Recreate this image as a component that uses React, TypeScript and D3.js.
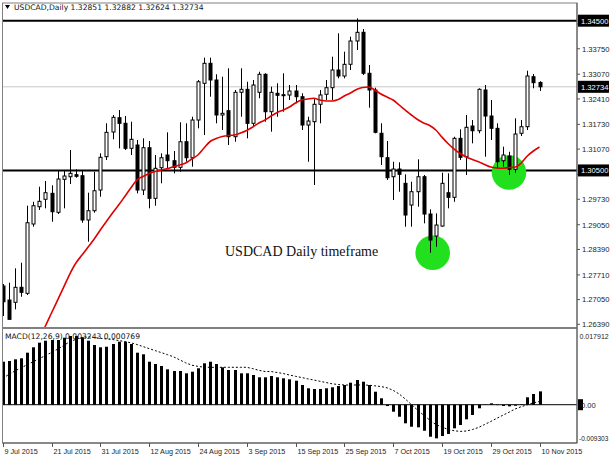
import React from "react";
import * as d3 from "d3";

const W = 610;
const H = 457;

const opens = [1.27412,1.27038,1.26977,1.27378,1.27217,1.29069,1.29531,1.29729,1.29889,1.29381,1.30263,1.30332,1.30386,1.30359,1.29176,1.29424,1.29977,1.30867,1.31526,1.31909,1.31759,1.31091,1.31179,1.29977,1.31107,1.29755,1.30573,1.30912,1.30760,1.30583,1.31267,1.30840,1.31847,1.32828,1.33362,1.32916,1.31981,1.32096,1.31401,1.32587,1.32667,1.31759,1.32587,1.33068,1.32069,1.32560,1.32523,1.32515,1.32622,1.32470,1.31713,1.31802,1.32267,1.32534,1.32710,1.33183,1.33023,1.33335,1.33958,1.34190,1.33095,1.32649,1.31492,1.30840,1.30332,1.30538,1.30156,1.29576,1.29932,1.30332,1.29336,1.28748,1.29015,1.29905,1.29782,1.31358,1.30867,1.31687,1.31561,1.32649,1.31954,1.31625,1.30760,1.30885,1.30530,1.31492,1.31668,1.33004,1.32851];
const highs = [1.27466,1.27500,1.27885,1.28035,1.29558,1.29664,1.30065,1.30217,1.30103,1.30511,1.30485,1.31046,1.30530,1.30511,1.29905,1.30466,1.30957,1.31759,1.31981,1.32114,1.31954,1.31802,1.31313,1.31358,1.31286,1.30912,1.30957,1.31518,1.31019,1.31786,1.31759,1.31935,1.32916,1.33512,1.33512,1.33068,1.33004,1.33228,1.32649,1.33228,1.32870,1.32916,1.33137,1.33095,1.32737,1.32828,1.33095,1.32782,1.32782,1.32560,1.31935,1.32427,1.32649,1.32916,1.33538,1.34163,1.33672,1.34073,1.34564,1.34278,1.33316,1.32710,1.31759,1.31286,1.30733,1.30717,1.30396,1.30199,1.30797,1.30378,1.29461,1.29354,1.30439,1.30423,1.31401,1.31599,1.31981,1.31847,1.32694,1.32782,1.32381,1.31759,1.31134,1.31000,1.31892,1.31847,1.33164,1.33076,1.32882];
const lows = [1.26611,1.26504,1.26790,1.27126,1.27172,1.28997,1.29443,1.29488,1.29130,1.29336,1.29488,1.30137,1.30306,1.29103,1.28596,1.29371,1.29798,1.30778,1.31331,1.31091,1.31046,1.30912,1.29889,1.29843,1.29488,1.29558,1.30156,1.30557,1.30423,1.30466,1.30733,1.30599,1.31625,1.31446,1.32470,1.31759,1.31580,1.31179,1.31267,1.31935,1.31358,1.31668,1.32427,1.31802,1.31535,1.31935,1.32069,1.32381,1.32293,1.31580,1.30733,1.30111,1.31759,1.32381,1.32381,1.32961,1.32961,1.33183,1.33717,1.33049,1.32176,1.31492,1.30645,1.30244,1.29710,1.29932,1.28997,1.28997,1.29531,1.29087,1.28302,1.28462,1.28997,1.29488,1.29664,1.30778,1.30378,1.31225,1.31492,1.30867,1.31313,1.30557,1.30599,1.30378,1.30439,1.31420,1.31580,1.32694,1.32624];
const closes = [1.26993,1.26523,1.27378,1.27244,1.29103,1.29558,1.29675,1.29905,1.29397,1.30271,1.30351,1.30423,1.30343,1.29176,1.29424,1.29958,1.30851,1.31518,1.31919,1.31759,1.31091,1.31331,1.29977,1.31107,1.29755,1.30557,1.30840,1.30760,1.30583,1.31267,1.30840,1.31847,1.32870,1.33362,1.32916,1.31981,1.32026,1.31401,1.32587,1.32667,1.31759,1.32782,1.33068,1.32069,1.32587,1.32507,1.32507,1.32622,1.32470,1.31713,1.31820,1.32267,1.32515,1.32710,1.33183,1.33023,1.33335,1.33958,1.34190,1.33095,1.32649,1.31518,1.30867,1.30306,1.30538,1.30396,1.29309,1.29932,1.30332,1.29336,1.28641,1.29042,1.30156,1.29782,1.31358,1.30851,1.31652,1.31561,1.32667,1.31954,1.31625,1.30733,1.30912,1.30530,1.31473,1.31668,1.33023,1.32844,1.32734];

// moving average (red), first value belongs to bar index maStart
const maStart = 5;
const maValues = [1.25622,1.25970,1.26344,1.26691,1.27038,1.27385,1.27733,1.28027,1.28240,1.28454,1.28668,1.28908,1.29135,1.29363,1.29576,1.29803,1.30030,1.30244,1.30338,1.30418,1.30471,1.30511,1.30551,1.30599,1.30645,1.30698,1.30805,1.30912,1.31099,1.31273,1.31353,1.31406,1.31433,1.31446,1.31500,1.31567,1.31660,1.31767,1.31847,1.31954,1.32047,1.32114,1.32194,1.32301,1.32381,1.32408,1.32427,1.32381,1.32355,1.32355,1.32395,1.32488,1.32568,1.32662,1.32715,1.32729,1.32649,1.32542,1.32462,1.32381,1.32248,1.32114,1.31981,1.31860,1.31767,1.31700,1.31580,1.31393,1.31219,1.31072,1.30952,1.30859,1.30792,1.30733,1.30658,1.30591,1.30565,1.30557,1.30578,1.30591,1.30698,1.30885,1.31019,1.31126];

const macdValues = [0.01045,0.01062,0.01103,0.01128,0.01264,0.01395,0.01507,0.01555,0.01572,0.01572,0.01628,0.01669,0.01669,0.01638,0.01555,0.01451,0.01395,0.01409,0.01475,0.01531,0.01531,0.01475,0.01264,0.01225,0.01045,0.00989,0.00940,0.00860,0.00819,0.00819,0.00763,0.00802,0.00885,0.01006,0.01045,0.00989,0.00909,0.00843,0.00843,0.00763,0.00763,0.00722,0.00666,0.00666,0.00697,0.00666,0.00642,0.00617,0.00583,0.00479,0.00399,0.00382,0.00382,0.00399,0.00423,0.00454,0.00479,0.00535,0.00600,0.00559,0.00479,0.00316,0.00156,-0.00032,-0.00170,-0.00292,-0.00452,-0.00535,-0.00549,-0.00632,-0.00778,-0.00817,-0.00761,-0.00712,-0.00574,-0.00493,-0.00355,-0.00250,-0.00087,-0.00005,0.00034,-0.00010,-0.00030,-0.00040,-0.00025,0.00010,0.00180,0.00260,0.003243];
const signalValues = [0.00642,0.00734,0.00819,0.00897,0.00970,0.01045,0.01118,0.01196,0.01269,0.01349,0.01439,0.01531,0.01589,0.01633,0.01650,0.01633,0.01614,0.01597,0.01584,0.01560,0.01536,0.01504,0.01463,0.01414,0.01363,0.01315,0.01266,0.01217,0.01164,0.01091,0.01018,0.00960,0.00933,0.00911,0.00909,0.00909,0.00909,0.00909,0.00909,0.00909,0.00909,0.00877,0.00836,0.00807,0.00807,0.00782,0.00758,0.00722,0.00690,0.00661,0.00629,0.00600,0.00569,0.00539,0.00508,0.00491,0.00479,0.00479,0.00479,0.00479,0.00474,0.00459,0.00442,0.00411,0.00350,0.00260,0.00139,0.00005,-0.00129,-0.00255,-0.00372,-0.00481,-0.00542,-0.00600,-0.00632,-0.00649,-0.00639,-0.00603,-0.00552,-0.00481,-0.00408,-0.00331,-0.00255,-0.00182,-0.00104,-0.00049,-0.00002,0.00046,0.000769];

const priceTicks = [1.3441,1.3375,1.3307,1.3241,1.3173,1.3107,1.3039,1.2973,1.2905,1.2839,1.2771,1.2705,1.2639];
const hiddenTicks = [1.3441, 1.3039];
const dateLabels = ["9 Jul 2015","21 Jul 2015","31 Jul 2015","12 Aug 2015","24 Aug 2015","3 Sep 2015","15 Sep 2015","25 Sep 2015","7 Oct 2015","19 Oct 2015","29 Oct 2015","10 Nov 2015"];
const dateStep = 8;

const levelLines = [1.345, 1.305];
const bidPrice = 1.32734;
const highlightIdx = [70, 83];
const macdMax = 0.017912;
const macdMin = -0.009303;

const FONT = "'DejaVu Sans', sans-serif";
const AXF = "'Liberation Sans', Arial, sans-serif";

export default function App() {
  const left = 2.5;
  const axisX = 577;
  const mainTop = 3;
  const mainBottom = 327;
  const subTop = 329;
  const subBottom = 443;

  const x = d3.scaleLinear().domain([0, 88]).range([2.7, 539.5]);
  const y = d3.scaleLinear().domain([1.345, 1.2639]).range([20.7, 324.3]);
  const ym = d3.scaleLinear().domain([macdMax, macdMin]).range([331, 443]);

  const maLine = d3
    .line<number>()
    .x((_, i) => x(i + maStart))
    .y((v) => y(v))
    .curve(d3.curveMonotoneX)(maValues) as string;
  const sigLine = d3
    .line<number>()
    .x((_, i) => x(i))
    .y((v) => ym(v))(signalValues) as string;

  const fmtP = d3.format(".5f");

  const labelBox = (val: number, key: string) => {
    const cy = y(val);
    return (
      <g key={key}>
        <rect x={578} y={cy - 6} width={31} height={12} fill="#000" />
        <text x={581} y={cy + 2.8} fontSize={7.6} fill="#fff" fontFamily={AXF}>
          {fmtP(val)}
        </text>
      </g>
    );
  };

  return (
    <svg
      width={W}
      height={H}
      style={{ position: "absolute", left: 0, top: 0, background: "#fff" }}
    >
      <defs>
        <clipPath id="mainClip">
          <rect x={left} y={mainTop} width={axisX - left} height={mainBottom - mainTop} />
        </clipPath>
        <clipPath id="subClip">
          <rect x={left} y={subTop} width={axisX - left} height={subBottom - subTop} />
        </clipPath>
      </defs>
      <rect x={0} y={0} width={W} height={H} fill="#fff" />

      {/* main panel */}
      <g clipPath="url(#mainClip)">
        <line x1={left} x2={axisX} y1={y(bidPrice)} y2={y(bidPrice)} stroke="#c8c8c8" strokeWidth={1} />
        {levelLines.map((v) => (
          <line key={v} x1={left} x2={axisX} y1={y(v)} y2={y(v)} stroke="#000" strokeWidth={2} />
        ))}
        {highlightIdx.map((i, k) => (
          <circle key={k} cx={x(i) + (k === 0 ? 3 : 0)} cy={k === 0 ? 252.8 : 172.5} r={17.3} fill="#22e01e" />
        ))}
        {opens.map((o, i) => {
          const c = closes[i];
          const bull = c >= o;
          const cx = Math.round(x(i)) + 0.5;
          const top = y(Math.max(o, c));
          const bot = y(Math.min(o, c));
          return (
            <g key={i}>
              <line x1={cx} x2={cx} y1={y(highs[i])} y2={y(lows[i])} stroke="#000" strokeWidth={1} />
              <rect
                x={cx - 1.5}
                y={top}
                width={3}
                height={Math.max(bot - top, 1)}
                fill={bull ? "#fff" : "#000"}
                stroke="#000"
                strokeWidth={1}
              />
            </g>
          );
        })}
        <path d={maLine} fill="none" stroke="#e00000" strokeWidth={1.6} />
        <text x={225} y={256} fontSize={14} fontFamily="'Liberation Serif', serif" fill="#111">
          USDCAD Daily timeframe
        </text>
      </g>

      {/* sub panel */}
      <g clipPath="url(#subClip)">
        <line x1={left} x2={axisX} y1={ym(0)} y2={ym(0)} stroke="#000" strokeWidth={1} />
        {macdValues.map((v, i) => {
          const cx = Math.round(x(i)) + 0.5;
          const y0 = ym(0);
          const y1 = ym(v);
          return (
            <rect key={i} x={cx - 1.5} y={Math.min(y0, y1)} width={3} height={Math.abs(y1 - y0)} fill="#000" />
          );
        })}
        <path d={sigLine} fill="none" stroke="#000" strokeWidth={1} strokeDasharray="2,2" />
      </g>

      {/* frames */}
      <rect x={left} y={mainTop} width={axisX - left} height={subBottom - mainTop} fill="none" stroke="#808080" strokeWidth={1} />
      <line x1={left} x2={axisX} y1={328} y2={328} stroke="#808080" strokeWidth={2} />
      <line x1={axisX} x2={axisX} y1={mainTop} y2={subBottom} stroke="#555" strokeWidth={1} />
      <line x1={left} x2={axisX} y1={subBottom} y2={subBottom} stroke="#555" strokeWidth={1} />

      {/* title */}
      <path d="M5,5 L10,5 L7.5,9 Z" fill="#000" />
      <text x={14} y={10} fontSize={7.6} fontFamily={FONT} fill="#111">
        {`USDCAD,Daily  ${fmtP(opens[88])} ${fmtP(highs[88])} ${fmtP(lows[88])} ${fmtP(closes[88])}`}
      </text>
      <text x={5} y={339} fontSize={7.6} fontFamily={FONT} fill="#111">
        {`MACD(12,26,9) ${d3.format(".6f")(macdValues[88])} ${d3.format(".6f")(signalValues[88])}`}
      </text>

      {/* price axis */}
      {priceTicks.map((t) => (
        <g key={t}>
          <line x1={axisX} x2={axisX + 3} y1={y(t)} y2={y(t)} stroke="#555" />
          {hiddenTicks.includes(t) ? null : (
            <text x={582} y={y(t) + 2.8} fontSize={7.6} fontFamily={AXF} fill="#222">
              {fmtP(t)}
            </text>
          )}
        </g>
      ))}
      {labelBox(1.345, "a")}
      {labelBox(bidPrice, "b")}
      {labelBox(1.305, "c")}

      {/* macd axis */}
      <text x={579.5} y={339} fontSize={7} fontFamily={AXF} fill="#222">{macdMax.toFixed(6)}</text>
      <rect x={578} y={ym(0) - 5.5} width={5} height={11} fill="#000" />
      <text x={581} y={ym(0) + 2.8} fontSize={7.6} fontFamily={AXF} fill="#222">0.00</text>
      <text x={579} y={441} fontSize={6.5} fontFamily={AXF} fill="#222">{macdMin.toFixed(6)}</text>

      {/* date axis */}
      {dateLabels.map((d, k) => {
        const tx = Math.round(x(k * dateStep)) + 0.5;
        return (
          <g key={d}>
            <line x1={tx} x2={tx} y1={subBottom} y2={subBottom + 4} stroke="#555" />
            <text x={tx + 1} y={454} fontSize={7.2} fontFamily={AXF} fill="#222">
              {d}
            </text>
          </g>
        );
      })}
    </svg>
  );
}
